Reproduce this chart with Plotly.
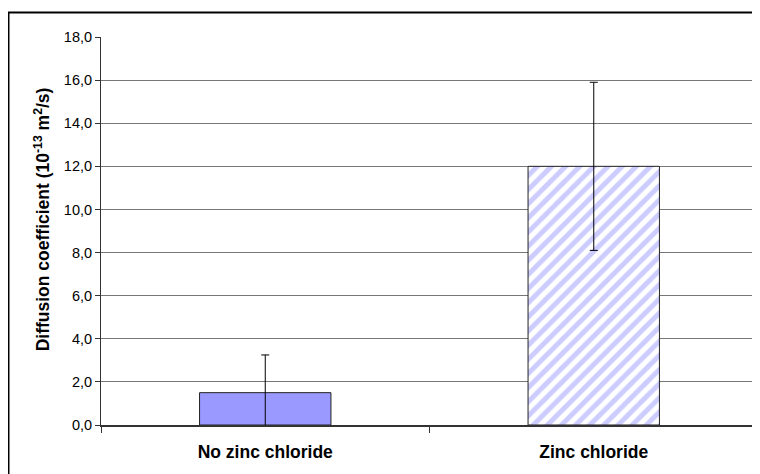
import plotly.graph_objects as go

# data
categories = ["No zinc chloride", "Zinc chloride"]
values = [1.5, 12.0]
errors = [1.75, 3.9]
y_ticks = [0, 2, 4, 6, 8, 10, 12, 14, 16, 18]

FONT = "Liberation Sans, Arial, sans-serif"

fig = go.Figure()
# plain bar
fig.add_trace(go.Bar(
    x=categories[:1], y=values[:1], width=0.4,
    marker=dict(color="#9999FF", line=dict(color="#222222", width=1)),
    error_y=dict(type="data", array=errors[:1], visible=True,
                 color="black", thickness=1, width=4),
    showlegend=False,
))
# hatched bar
fig.add_trace(go.Bar(
    x=categories[1:], y=values[1:], width=0.4,
    marker=dict(color="white", line=dict(color="#222222", width=1),
                pattern=dict(shape="/", fgcolor="#9999FF", bgcolor="white",
                             size=10, solidity=0.5, fillmode="overlay")),
    error_y=dict(type="data", array=errors[1:], visible=True,
                 color="black", thickness=1, width=4),
    showlegend=False,
))

# outer frame around the whole chart area
fig.add_shape(type="rect", xref="paper", yref="paper",
              x0=-0.1408, x1=1.2, y0=-0.3, y1=1.0631,
              line=dict(color="black", width=2), layer="above")
# right edge of plot area (light gray line)
fig.add_shape(type="line", xref="paper", yref="paper",
              x0=1, x1=1, y0=0, y1=1, line=dict(color="#999999", width=1.5))

# y axis title as a rotated annotation (sits a bit above the centre)
fig.add_annotation(
    text="<b>Diffusion coefficient (10<sup>-13</sup> m<sup>2</sup>/s)</b>",
    xref="paper", yref="paper", x=-0.0898, y=0.53,
    xanchor="center", yanchor="middle", textangle=-90, showarrow=False,
    font=dict(size=17.5, family=FONT, color="black"),
)

# the page body has an 8px margin, so margins are shifted by 8px
fig.update_layout(
    width=760, height=474,
    margin=dict(l=93, r=10, t=29, b=57),
    plot_bgcolor="white", paper_bgcolor="white",
    separators=", ",
    barmode="overlay",
    font=dict(family=FONT, color="black"),
    xaxis=dict(
        showline=True, linecolor="#333333", linewidth=1.5,
        ticks="outside", tickson="boundaries", ticklen=6, tickcolor="#333333",
        tickfont=dict(size=17.5, family=FONT),
        tickprefix="<b>", ticksuffix="</b>",
        ticklabelstandoff=10,
        showgrid=False,
    ),
    yaxis=dict(
        range=[0, 18], tickvals=y_ticks, tickformat=".1f",
        showline=True, linecolor="#333333", linewidth=1,
        ticks="outside", ticklen=5, tickcolor="#333333",
        showgrid=True, gridcolor="#777777", gridwidth=1,
        zeroline=False,
        tickfont=dict(size=14.5),
    ),
)

fig.write_html("out.html")
